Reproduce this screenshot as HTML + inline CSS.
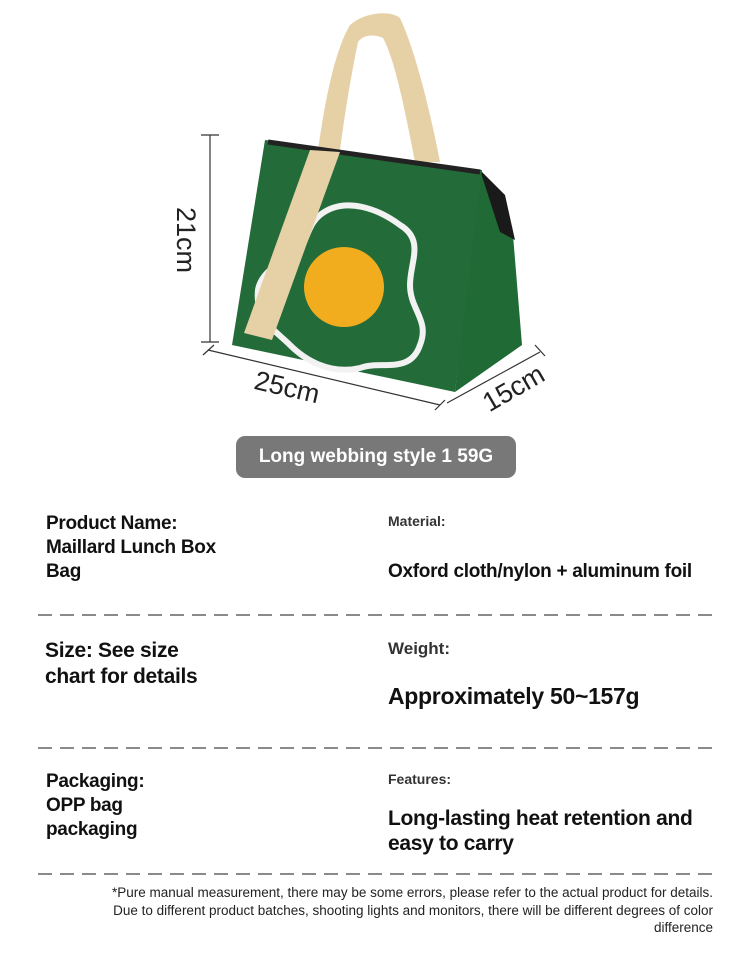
<!DOCTYPE html>
<html><head><meta charset="utf-8"><style>
body{margin:0;width:750px;height:958px;background:#fff;position:relative;overflow:hidden;font-family:"Liberation Sans",sans-serif;color:#111}
.t{position:absolute;white-space:nowrap}
.b{font-weight:bold;font-size:19px;line-height:24px;letter-spacing:-0.3px}
.s{font-size:14px;color:#333;font-weight:bold}
.dash{position:absolute;left:38px;width:676px;height:1.5px;background:repeating-linear-gradient(90deg,#8a8a8a 0 14px,transparent 14px 22px)}
</style></head><body>
<svg width="750" height="430" style="position:absolute;left:0;top:0">
 <g stroke="#333" stroke-width="1.2" fill="none">
  <line x1="210" y1="135" x2="210" y2="342"/><line x1="201" y1="135" x2="219" y2="135"/><line x1="201" y1="342" x2="219" y2="342"/>
  <line x1="208" y1="350" x2="440" y2="405"/><line x1="203" y1="355" x2="214" y2="345"/><line x1="435" y1="410" x2="445" y2="400"/>
  <line x1="447" y1="403" x2="540" y2="352"/><line x1="535" y1="345" x2="545" y2="356"/>
 </g>
 <text x="0" y="0" transform="translate(177,240) rotate(90)" text-anchor="middle" font-size="27" fill="#222" font-family="Liberation Sans">21cm</text>
 <text x="0" y="0" transform="translate(285,396) rotate(13)" text-anchor="middle" font-size="27" fill="#222" font-family="Liberation Sans">25cm</text>
 <text x="0" y="0" transform="translate(518,396) rotate(-30)" text-anchor="middle" font-size="27" fill="#222" font-family="Liberation Sans">15cm</text>
 <path d="M318,150 C325,100 335,50 350,25 C365,12 390,10 400,18 C415,50 430,110 440,162 L415,162 C405,110 395,60 383,38 C372,33 362,36 358,42 C350,80 344,120 340,150 Z" fill="#e6d0a6"/>
 <path d="M480,170 L513,235 L522,345 L455,392 Z" fill="#1f6a35"/>
 <path d="M480,170 L505,195 L515,240 L500,232 Z" fill="#1a1a1a"/>
 <path d="M265,140 L482,170 L455,392 L232,345 Z" fill="#246b3a"/>
 <path d="M268,142 L480,172" stroke="#222" stroke-width="5"/>
 <path d="M320,215 C345,195 380,210 400,225 C425,240 410,262 410,285 C410,310 430,320 420,345 C410,375 380,360 360,368 C330,375 305,360 290,345 C275,330 255,320 258,290 C262,265 300,255 305,240 C310,228 312,222 320,215 Z" fill="none" stroke="#f2f2f2" stroke-width="6"/>
 <circle cx="344" cy="287" r="40" fill="#f2ad1f"/>
 <path d="M310,150 L340,152 L272,340 L244,333 Z" fill="#e6d0a6"/>
</svg>
<div class="t" style="left:236px;top:436px;width:280px;height:42px;background:#787878;border-radius:9px;color:#fff;font-weight:bold;font-size:19px;line-height:42px;text-align:center">Long webbing style 1 59G</div>

<div class="t b" style="left:46px;top:512px">Product Name:<br>Maillard Lunch Box<br>Bag</div>
<div class="t s" style="left:388px;top:513px">Material:</div>
<div class="t b" style="left:388px;top:560px">Oxford cloth/nylon + aluminum foil</div>
<div class="dash" style="top:614px"></div>
<div class="t b" style="left:45px;top:638px;font-size:21px;line-height:26px">Size: See size<br>chart for details</div>
<div class="t s" style="left:388px;top:639px;font-size:17px">Weight:</div>
<div class="t b" style="left:388px;top:684px;font-size:23px">Approximately 50~157g</div>
<div class="dash" style="top:747px"></div>
<div class="t b" style="left:46px;top:770px">Packaging:<br>OPP bag<br>packaging</div>
<div class="t s" style="left:388px;top:771px">Features:</div>
<div class="t b" style="left:388px;top:806px;font-size:21px;line-height:25px">Long-lasting heat retention and<br>easy to carry</div>
<div class="dash" style="top:873px"></div>
<div class="t" style="right:37px;top:884px;font-size:13.5px;line-height:17.5px;text-align:right;color:#222">*Pure manual measurement, there may be some errors, please refer to the actual product for details.<br>Due to different product batches, shooting lights and monitors, there will be different degrees of color<br>difference</div>
</body></html>
